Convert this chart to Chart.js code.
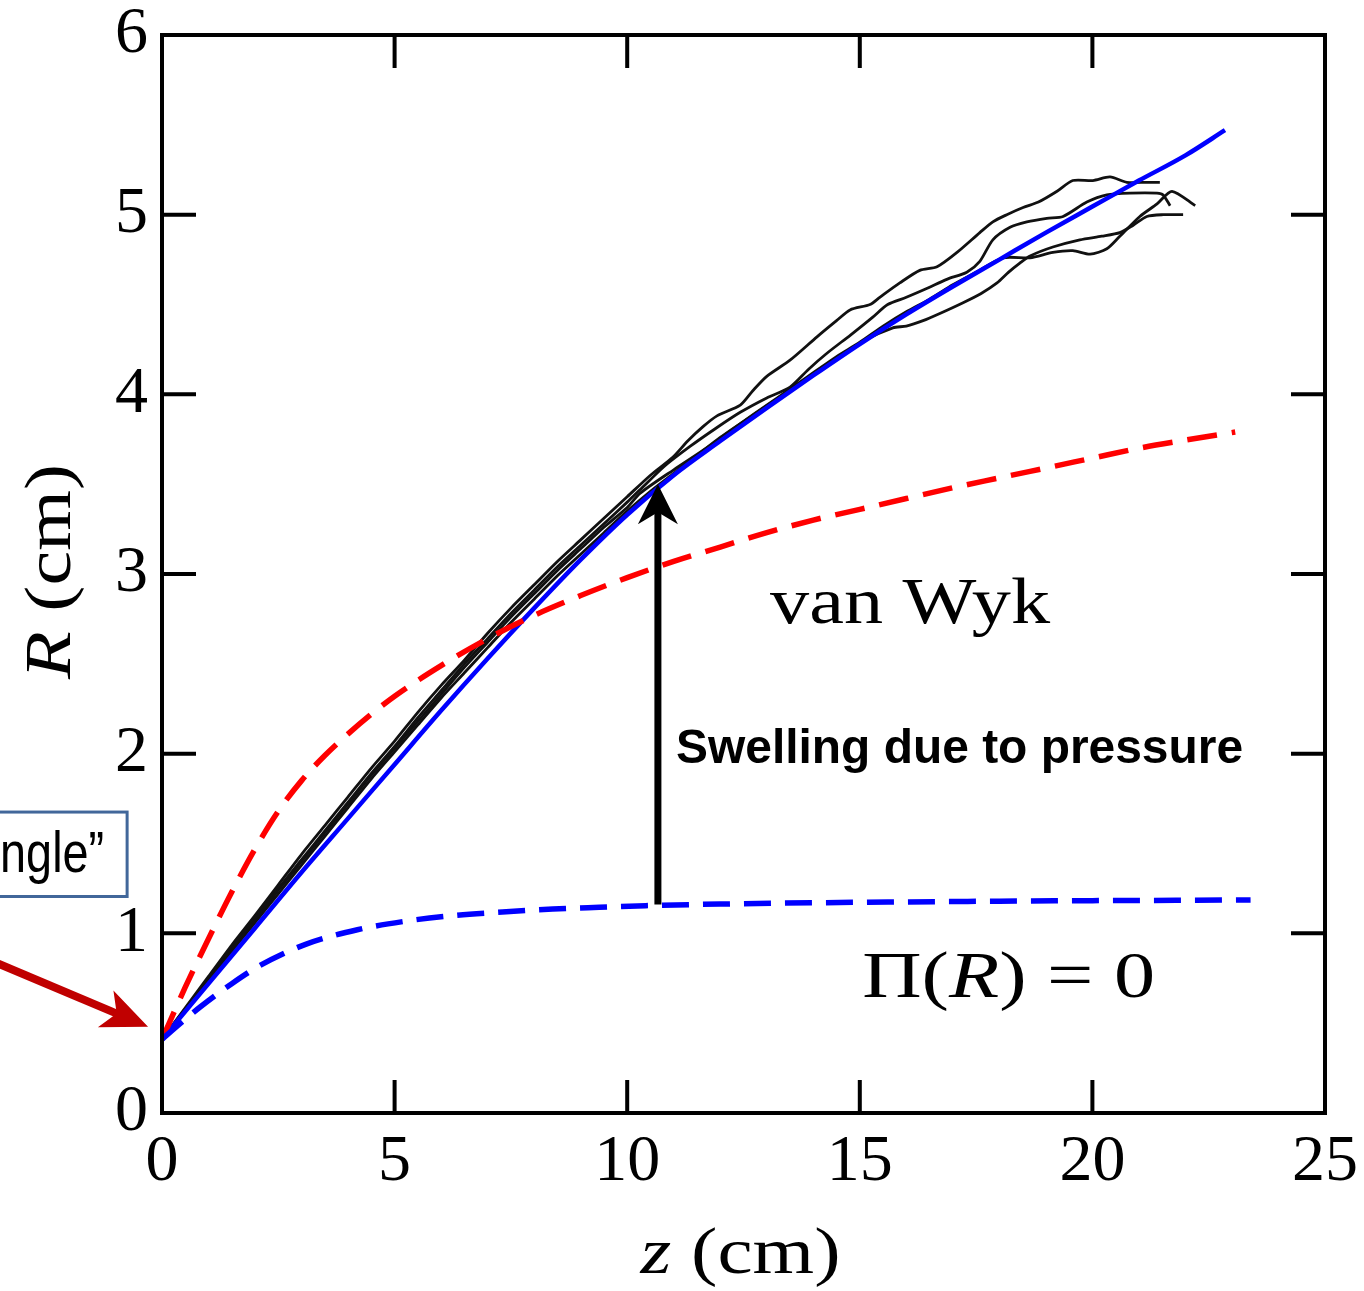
<!DOCTYPE html>
<html>
<head>
<meta charset="utf-8">
<script src="https://cdn.jsdelivr.net/npm/chart.js@4.4.1/dist/chart.umd.min.js"></script>
<style>
html,body{margin:0;padding:0;background:#fff;}
#wrap{width:1364px;height:1291px;}
</style>
</head>
<body>
<div id="wrap"><canvas id="c" width="1364" height="1291"></canvas></div>
<script>
// ---- data (z in cm, R in cm) ----
const xTicks = [0, 5, 10, 15, 20, 25];
const yTicks = [0, 1, 2, 3, 4, 5, 6];

const solidZ = [0,1,2,3,4,5,6,7,8,9,10,11,12,13,14,15,16,17,18,19,20,21,22,22.85];
const solidR = [0.41,0.72,1.03,1.34,1.64,1.94,2.24,2.53,2.81,3.08,3.33,3.55,3.74,3.925,4.105,4.28,4.445,4.60,4.75,4.90,5.045,5.19,5.33,5.47];

const vanWykZ = [0,0.5,1,1.5,2,2.5,3,3.5,4,4.5,5,6,7,8,9,10,11,12,13,14,15,16,17,18,19,20,21,22,23.07];
const vanWykR = [0.41,0.70,0.97,1.23,1.47,1.68,1.85,1.99,2.11,2.22,2.32,2.49,2.64,2.77,2.88,2.98,3.07,3.15,3.23,3.30,3.36,3.42,3.48,3.535,3.59,3.645,3.70,3.745,3.79];

const piZeroZ = [0,0.4,0.82,1.5,2.1,3.1,4.2,5.3,6.3,7.4,8.4,9.4,10.4,12,14,16,18,20,22,23.4];
const piZeroR = [0.41,0.50,0.59,0.72,0.82,0.94,1.02,1.07,1.10,1.12,1.135,1.145,1.154,1.163,1.170,1.175,1.179,1.182,1.184,1.186];

const run1 = [[0,0.41],[0.5,0.585],[1,0.76],[1.5,0.935],[2,1.10],[2.5,1.27],[3,1.44],[3.5,1.60],[4,1.76],[4.5,1.92],[5,2.07],[5.5,2.23],[6,2.38],[6.5,2.52],[7,2.67],[7.5,2.81],[8,2.94],[8.5,3.07],[9,3.19],[9.5,3.31],[10,3.43],[10.5,3.55],[10.98,3.65],[11.3,3.74],[11.63,3.82],[11.93,3.88],[12.43,3.94],[12.7,4.02],[13.0,4.10],[13.5,4.19],[14.08,4.32],[14.5,4.41],[14.79,4.47],[15.22,4.50],[15.43,4.54],[15.86,4.62],[16.29,4.69],[16.66,4.71],[17.09,4.79],[17.58,4.90],[17.86,4.96],[18.16,5.00],[18.51,5.04],[18.84,5.07],[19.24,5.13],[19.58,5.19],[20.01,5.19],[20.38,5.21],[20.74,5.18],[21.17,5.18],[21.45,5.18]];
const run2 = [[0,0.41],[0.5,0.58],[1,0.75],[1.5,0.92],[2,1.08],[2.5,1.25],[3,1.41],[3.5,1.57],[4,1.73],[4.5,1.89],[5,2.04],[5.5,2.20],[6,2.35],[6.5,2.50],[7,2.64],[7.5,2.78],[8,2.91],[8.5,3.04],[9,3.16],[9.5,3.28],[10,3.40],[10.28,3.47],[10.8,3.60],[11.35,3.71],[11.9,3.81],[12.43,3.90],[13.0,3.98],[13.5,4.04],[13.9,4.14],[14.3,4.23],[14.8,4.33],[15.28,4.43],[15.6,4.50],[16.0,4.54],[16.45,4.59],[16.87,4.64],[17.30,4.68],[17.58,4.74],[17.86,4.86],[18.23,4.93],[18.59,4.96],[19.02,4.98],[19.37,4.99],[19.88,5.07],[20.31,5.11],[20.81,5.12],[21.39,5.12],[21.52,5.11],[21.67,5.05]];
const run3 = [[0,0.41],[0.5,0.575],[1,0.745],[1.5,0.91],[2,1.07],[2.5,1.24],[3,1.40],[3.5,1.56],[4,1.72],[4.5,1.88],[5,2.03],[5.5,2.18],[6,2.33],[6.5,2.48],[7,2.62],[7.5,2.76],[8,2.89],[8.5,3.02],[9,3.14],[9.5,3.26],[10,3.37],[10.28,3.45],[11.0,3.58],[11.7,3.70],[12.4,3.83],[13.14,3.96],[13.8,4.08],[14.57,4.21],[15.1,4.30],[15.71,4.37],[16.0,4.38],[16.36,4.41],[16.72,4.45],[17.22,4.51],[17.6,4.56],[17.95,4.62],[18.2,4.68],[18.44,4.73],[18.66,4.77],[19.15,4.82],[19.73,4.86],[20.2,4.88],[20.59,4.90],[20.87,4.94],[21.17,4.99],[21.52,5.00],[21.95,5.00]];
const run4 = [[0,0.41],[0.5,0.57],[1,0.74],[1.5,0.90],[2,1.06],[2.5,1.22],[3,1.38],[3.5,1.54],[4,1.70],[4.5,1.86],[5,2.01],[5.5,2.16],[6,2.31],[6.5,2.45],[7,2.59],[7.5,2.73],[8,2.86],[8.5,2.99],[9,3.11],[9.5,3.23],[10,3.35],[10.5,3.46],[11,3.56],[11.5,3.66],[12,3.76],[12.5,3.85],[13,3.94],[13.5,4.03],[14,4.12],[14.5,4.21],[15,4.29],[15.5,4.38],[16,4.46],[16.5,4.53],[17,4.61],[17.5,4.68],[18.08,4.76],[18.66,4.76],[19.15,4.79],[19.58,4.80],[19.95,4.78],[20.31,4.81],[20.59,4.88],[21.02,4.99],[21.39,5.06],[21.71,5.13],[22.21,5.05]];

// annotation anchor values (data units)
const swellArrow = {z: 10.66, from: 1.16, to: 3.50};

// ---- helpers ----
const zip = (zs, rs) => zs.map((z, i) => ({x: z, y: rs[i]}));
const pairs = arr => arr.map(p => ({x: p[0], y: p[1]}));

const blackRun = (data) => ({
  data: pairs(data), borderColor: '#111', borderWidth: 2.8, pointRadius: 0,
  tension: 0.25, fill: false, order: 5
});

const SERIF = '"Liberation Serif", "Times New Roman", serif';
const SANS = '"Liberation Sans", Arial, sans-serif';

function partsWidth(ctx, parts, size) {
  let w = 0;
  for (const [t, it] of parts) { ctx.font = (it ? 'italic ' : '') + size + 'px ' + SERIF; w += ctx.measureText(t).width; }
  return w;
}
function drawParts(ctx, parts, x, y, size, targetW) {
  const w = partsWidth(ctx, parts, size);
  const s = targetW ? targetW / w : 1;
  ctx.save();
  ctx.translate(x, y);
  ctx.scale(s, 1);
  let cx = 0;
  for (const [t, it] of parts) {
    ctx.font = (it ? 'italic ' : '') + size + 'px ' + SERIF;
    ctx.fillText(t, cx, 0);
    cx += ctx.measureText(t).width;
  }
  ctx.restore();
}
function arrowHead(ctx, tipX, tipY, angle, len, half, notch) {
  ctx.save();
  ctx.translate(tipX, tipY);
  ctx.rotate(angle);
  ctx.beginPath();
  ctx.moveTo(0, 0);
  ctx.lineTo(-len, -half);
  ctx.lineTo(-len + notch, 0);
  ctx.lineTo(-len, half);
  ctx.closePath();
  ctx.fill();
  ctx.restore();
}

const frame = {
  id: 'frame',
  afterDatasetsDraw(chart) {
    const {ctx, chartArea: a, scales: {x, y}} = chart;
    ctx.save();
    ctx.strokeStyle = '#000';
    ctx.lineWidth = 4;
    ctx.lineCap = 'butt';
    ctx.strokeRect(a.left, a.top, a.right - a.left, a.bottom - a.top);
    ctx.beginPath();
    for (const v of xTicks) {
      if (v <= x.min || v >= x.max) continue;
      const px = x.getPixelForValue(v);
      ctx.moveTo(px, a.bottom); ctx.lineTo(px, a.bottom - 33);
      ctx.moveTo(px, a.top); ctx.lineTo(px, a.top + 33);
    }
    for (const v of yTicks) {
      if (v <= y.min || v >= y.max) continue;
      const py = y.getPixelForValue(v);
      ctx.moveTo(a.left, py); ctx.lineTo(a.left + 34, py);
      ctx.moveTo(a.right, py); ctx.lineTo(a.right - 34, py);
    }
    ctx.stroke();
    ctx.restore();
  },
  afterDraw(chart) {
    const {ctx, chartArea: a, scales: {x, y}} = chart;
    const X = v => x.getPixelForValue(v), Y = v => y.getPixelForValue(v);
    ctx.save();
    ctx.fillStyle = '#000';
    ctx.textBaseline = 'alphabetic';
    ctx.textAlign = 'left';

    // swelling arrow
    const ax = X(swellArrow.z);
    ctx.strokeStyle = '#000';
    ctx.lineWidth = 7;
    ctx.beginPath();
    ctx.moveTo(ax, Y(swellArrow.from));
    ctx.lineTo(ax, Y(swellArrow.to) + 26);
    ctx.stroke();
    arrowHead(ctx, ax, Y(swellArrow.to), -Math.PI / 2, 40, 20, 12);

    // curve labels
    drawParts(ctx, [['van Wyk', false]], X(13.07), Y(2.73), 66, 280);
    drawParts(ctx, [['\u03A0(', false], ['R', true], [') = 0', false]], X(15.05), Y(0.645), 66, 293);

    ctx.font = 'bold 48px ' + SANS;
    const sw = 'Swelling due to pressure';
    const sm = ctx.measureText(sw).width;
    ctx.save();
    ctx.translate(X(11.05), Y(1.95));
    ctx.scale(567 / sm, 1);
    ctx.fillText(sw, 0, 0);
    ctx.restore();

    // axis titles
    const xt = [['z', true], [' (cm)', false]];
    drawParts(ctx, xt, (a.left + a.right) / 2 - 100 - 3, 1273, 66, 200);
    ctx.save();
    ctx.translate(70, 572);
    ctx.rotate(-Math.PI / 2);
    const yt = [['R', true], [' (cm)', false]];
    drawParts(ctx, yt, -107, 0, 66, 215);
    ctx.restore();

    // red pointer arrow towards the origin
    ctx.strokeStyle = '#c00000';
    ctx.fillStyle = '#c00000';
    ctx.lineWidth = 8;
    const tx = X(-0.3), ty = Y(0.48);
    const sx = X(-3.6), sy = Y(0.84);
    const ang = Math.atan2(ty - sy, tx - sx);
    ctx.beginPath();
    ctx.moveTo(sx, sy);
    ctx.lineTo(tx - 30 * Math.cos(ang), ty - 30 * Math.sin(ang));
    ctx.stroke();
    arrowHead(ctx, tx, ty, ang, 46, 20, 12);

    // callout box (cut off at the left edge)
    ctx.strokeStyle = '#41679a';
    ctx.lineWidth = 3;
    const bx1 = X(-0.75), by1 = Y(1.675), by2 = Y(1.205);
    ctx.strokeRect(-10, by1, bx1 + 10, by2 - by1);
    ctx.fillStyle = '#000';
    ctx.font = '58px ' + SANS;
    const ng = 'ngle\u201D';
    const nm = ctx.measureText(ng).width;
    ctx.save();
    ctx.translate(bx1 - 23, by1 + 60);
    ctx.scale(104 / nm, 1);
    ctx.textAlign = 'right';
    ctx.fillText(ng, 0, 0);
    ctx.restore();
    ctx.restore();
  }
};

new Chart(document.getElementById('c'), {
  type: 'line',
  data: {
    datasets: [
      blackRun(run1), blackRun(run2), blackRun(run3), blackRun(run4),
      {data: zip(solidZ, solidR), borderColor: '#0000ff', borderWidth: 4.5, pointRadius: 0,
       cubicInterpolationMode: 'monotone', fill: false, order: 3},
      {data: zip(vanWykZ, vanWykR), borderColor: '#ff0000', borderWidth: 5.5, borderDash: [30, 15],
       pointRadius: 0, cubicInterpolationMode: 'monotone', fill: false, order: 2},
      {data: zip(piZeroZ, piZeroR), borderColor: '#0000ff', borderWidth: 5.5, borderDash: [27, 14],
       pointRadius: 0, cubicInterpolationMode: 'monotone', fill: false, order: 1}
    ]
  },
  options: {
    responsive: false,
    devicePixelRatio: 1,
    animation: false,
    layout: {padding: {top: 35, right: 39, left: 0, bottom: 0}},
    plugins: {legend: {display: false}, tooltip: {enabled: false}},
    scales: {
      x: {
        type: 'linear', min: 0, max: 25,
        afterBuildTicks: s => { s.ticks = xTicks.map(v => ({value: v})); },
        ticks: {font: {family: SERIF, size: 66}, color: '#000', padding: 10, maxRotation: 0, autoSkip: false},
        grid: {display: false, drawTicks: false},
        border: {display: false},
        afterFit: s => { s.height = 178; s.paddingLeft = 0; s.paddingRight = 0; }
      },
      y: {
        type: 'linear', min: 0, max: 6,
        afterBuildTicks: s => { s.ticks = yTicks.map(v => ({value: v})); },
        ticks: {font: {family: SERIF, size: 66}, color: '#000', padding: 14, autoSkip: false},
        grid: {display: false, drawTicks: false},
        border: {display: false},
        afterFit: s => { s.width = 162; s.paddingTop = 0; s.paddingBottom = 0; }
      }
    }
  },
  plugins: [frame]
});
</script>
</body>
</html>
